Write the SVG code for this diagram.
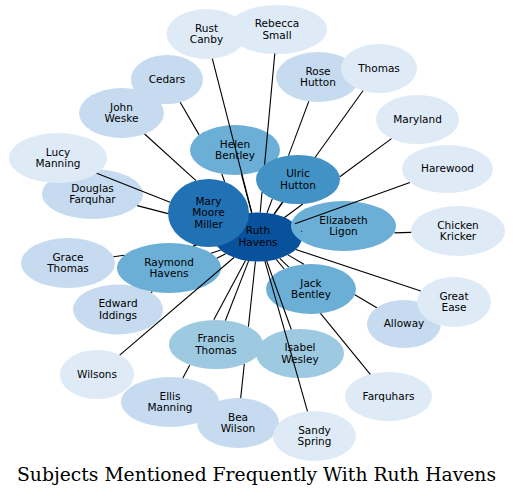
<svg xmlns="http://www.w3.org/2000/svg" width="513" height="497" viewBox="0 0 513 497">
<style>
.n text{font-family:"DejaVu Sans","Liberation Sans",sans-serif;font-size:10.5px;fill:#000;text-anchor:middle}
.c1{fill:#deebf7}.c2{fill:#c6dbef}.c3{fill:#9ecae1}.c4{fill:#6baed6}.c5{fill:#4292c6}.c6{fill:#2171b5}.c7{fill:#08519c}
#edges line{stroke:#000;stroke-width:1.1;fill:none}
.title{font-family:"DejaVu Serif","Liberation Serif",serif;font-size:19px;fill:#000;text-anchor:middle}
</style>
<rect width="513" height="497" fill="#fff"/>
<g id="nodes">
<g id="douglas" class="n"><ellipse class="c2" cx="92.5" cy="194" rx="50.5" ry="25"/><text x="92.5" y="191.5">Douglas</text><text x="92.5" y="203.1">Farquhar</text></g>
<g id="lucy" class="n"><ellipse class="c1" cx="58" cy="158" rx="49" ry="25"/><text x="58" y="155.5">Lucy</text><text x="58" y="167.1">Manning</text></g>
<g id="rust" class="n"><ellipse class="c1" cx="206.5" cy="34" rx="40" ry="25"/><text x="206.5" y="31.5">Rust</text><text x="206.5" y="43.1">Canby</text></g>
<g id="rebecca" class="n"><ellipse class="c1" cx="277" cy="29.5" rx="50" ry="24.5"/><text x="277" y="27">Rebecca</text><text x="277" y="38.6">Small</text></g>
<g id="cedars" class="n"><ellipse class="c2" cx="167" cy="79.5" rx="36" ry="24.5"/><text x="167" y="82.5">Cedars</text></g>
<g id="john" class="n"><ellipse class="c2" cx="121.5" cy="113" rx="42.5" ry="25"/><text x="121.5" y="110.5">John</text><text x="121.5" y="122.1">Weske</text></g>
<g id="rose" class="n"><ellipse class="c2" cx="318" cy="77" rx="42" ry="25"/><text x="318" y="74.5">Rose</text><text x="318" y="86.1">Hutton</text></g>
<g id="thomas" class="n"><ellipse class="c1" cx="379" cy="68.5" rx="38" ry="24.5"/><text x="379" y="71.5">Thomas</text></g>
<g id="maryland" class="n"><ellipse class="c1" cx="417.5" cy="119.5" rx="41.5" ry="24.5"/><text x="417.5" y="122.5">Maryland</text></g>
<g id="harewood" class="n"><ellipse class="c1" cx="447.5" cy="169" rx="45.5" ry="24"/><text x="447.5" y="172">Harewood</text></g>
<g id="helen" class="n"><ellipse class="c4" cx="235" cy="150" rx="45" ry="25"/><text x="235" y="147.5">Helen</text><text x="235" y="159.1">Bentley</text></g>
<g id="ulric" class="n"><ellipse class="c5" cx="298" cy="179.5" rx="42" ry="24.5"/><text x="298" y="177">Ulric</text><text x="298" y="188.6">Hutton</text></g>
<g id="ruth" class="n"><ellipse class="c7" cx="258" cy="237" rx="44" ry="24.5"/><text x="258" y="234.3">Ruth</text><text x="258" y="245.9">Havens</text></g>
<g id="mary" class="n"><ellipse class="c6" cx="208.5" cy="213" rx="40.5" ry="34"/><text x="208.5" y="204.6">Mary</text><text x="208.5" y="216.2">Moore</text><text x="208.5" y="227.8">Miller</text></g>
<g id="elizabeth" class="n"><ellipse class="c4" cx="343.5" cy="226" rx="52.5" ry="25"/><text x="343.5" y="223.5">Elizabeth</text><text x="343.5" y="235.1">Ligon</text></g>
<g id="chicken" class="n"><ellipse class="c1" cx="458" cy="231" rx="47" ry="25"/><text x="458" y="228.5">Chicken</text><text x="458" y="240.1">Kricker</text></g>
<g id="jack" class="n"><ellipse class="c4" cx="311" cy="289" rx="45" ry="25"/><text x="311" y="286.5">Jack</text><text x="311" y="298.1">Bentley</text></g>
<g id="alloway" class="n"><ellipse class="c2" cx="404" cy="324" rx="37" ry="24"/><text x="404" y="327">Alloway</text></g>
<g id="greatease" class="n"><ellipse class="c1" cx="454" cy="302" rx="37" ry="25"/><text x="454" y="299.5">Great</text><text x="454" y="311.1">Ease</text></g>
<g id="farquhars" class="n"><ellipse class="c1" cx="388.5" cy="396.5" rx="43.5" ry="24.5"/><text x="388.5" y="399.5">Farquhars</text></g>
<g id="edward" class="n"><ellipse class="c2" cx="118" cy="309.5" rx="45" ry="25"/><text x="118" y="307">Edward</text><text x="118" y="318.6">Iddings</text></g>
<g id="raymond" class="n"><ellipse class="c4" cx="169" cy="268" rx="52" ry="25"/><text x="169" y="265.5">Raymond</text><text x="169" y="277.1">Havens</text></g>
<g id="grace" class="n"><ellipse class="c2" cx="68" cy="263" rx="47" ry="25"/><text x="68" y="260.5">Grace</text><text x="68" y="272.1">Thomas</text></g>
<g id="wilsons" class="n"><ellipse class="c1" cx="97" cy="374.5" rx="37" ry="24.5"/><text x="97" y="377.5">Wilsons</text></g>
<g id="ellis" class="n"><ellipse class="c2" cx="170" cy="402" rx="49" ry="25"/><text x="170" y="399.5">Ellis</text><text x="170" y="411.1">Manning</text></g>
<g id="bea" class="n"><ellipse class="c2" cx="238" cy="423" rx="41" ry="25"/><text x="238" y="420.5">Bea</text><text x="238" y="432.1">Wilson</text></g>
<g id="francis" class="n"><ellipse class="c3" cx="216" cy="344.5" rx="47" ry="24.5"/><text x="216" y="342">Francis</text><text x="216" y="353.6">Thomas</text></g>
<g id="isabel" class="n"><ellipse class="c3" cx="300" cy="353.5" rx="44" ry="24.5"/><text x="300" y="351">Isabel</text><text x="300" y="362.6">Wesley</text></g>
<g id="sandy" class="n"><ellipse class="c1" cx="314.5" cy="436" rx="41.5" ry="25"/><text x="314.5" y="433.5">Sandy</text><text x="314.5" y="445.1">Spring</text></g>
</g>
<g id="edges">
<line x1="212.3" y1="58.7" x2="251.8" y2="212.7"/>
<line x1="274.8" y1="53.5" x2="264.6" y2="164.6"/>
<line x1="262.0" y1="192.2" x2="260.2" y2="212.5"/>
<line x1="180.2" y1="102.3" x2="199.1" y2="134.9"/>
<line x1="221.8" y1="173.9" x2="224.6" y2="181.8"/>
<line x1="144.6" y1="134" x2="196" y2="180.6"/>
<line x1="96.7" y1="173.3" x2="170.1" y2="202.3"/>
<line x1="137.2" y1="205.6" x2="168.05" y2="213.6"/>
<line x1="241.5" y1="174.7" x2="251.6" y2="212.8"/>
<line x1="282.2" y1="202.2" x2="273.9" y2="214.2"/>
<line x1="308.8" y1="101.4" x2="288.5" y2="155.6"/>
<line x1="272.3" y1="198.9" x2="267" y2="213"/>
<line x1="363" y1="90.7" x2="315.2" y2="157.3"/>
<line x1="282.9" y1="202.3" x2="274.3" y2="214.3"/>
<line x1="391.5" y1="138.6" x2="339.8" y2="176.8"/>
<line x1="302.8" y1="204" x2="284.5" y2="217.5"/>
<line x1="409.9" y1="182.5" x2="295" y2="223.7"/>
<line x1="301.3" y1="231.2" x2="302" y2="231.6"/>
<line x1="411.1" y1="232.4" x2="394.5" y2="232.9"/>
<line x1="288.8" y1="267.2" x2="279.7" y2="258.3"/>
<line x1="420.8" y1="291" x2="295.8" y2="249.5"/>
<line x1="376.8" y1="307.8" x2="354.8" y2="294.7"/>
<line x1="303.8" y1="264.3" x2="288" y2="254.9"/>
<line x1="370.3" y1="374.3" x2="320.5" y2="313.4"/>
<line x1="284.2" y1="269" x2="276.2" y2="259.3"/>
<line x1="307.5" y1="411.4" x2="264.9" y2="261.2"/>
<line x1="291.3" y1="329.5" x2="266.7" y2="261"/>
<line x1="225.4" y1="320.5" x2="248.6" y2="260.9"/>
<line x1="240.7" y1="398.1" x2="244.3" y2="364"/>
<line x1="248.4" y1="326.7" x2="255.4" y2="261.5"/>
<line x1="182.9" y1="377.9" x2="189.8" y2="364.9"/>
<line x1="213.8" y1="319.8" x2="245.5" y2="260.5"/>
<line x1="119.7" y1="355.1" x2="234" y2="257.5"/>
<line x1="150.9" y1="292.5" x2="152.4" y2="291.7"/>
<line x1="216.8" y1="258.3" x2="225.8" y2="253.7"/>
<line x1="113.5" y1="256.8" x2="124.2" y2="255.3"/>
<line x1="193" y1="245.9" x2="196.3" y2="245.4"/>
<line x1="211.1" y1="253.3" x2="220.7" y2="250"/>
</g>
<text class="title" x="256.5" y="481" textLength="479" lengthAdjust="spacingAndGlyphs">Subjects Mentioned Frequently With Ruth Havens</text>
</svg>
